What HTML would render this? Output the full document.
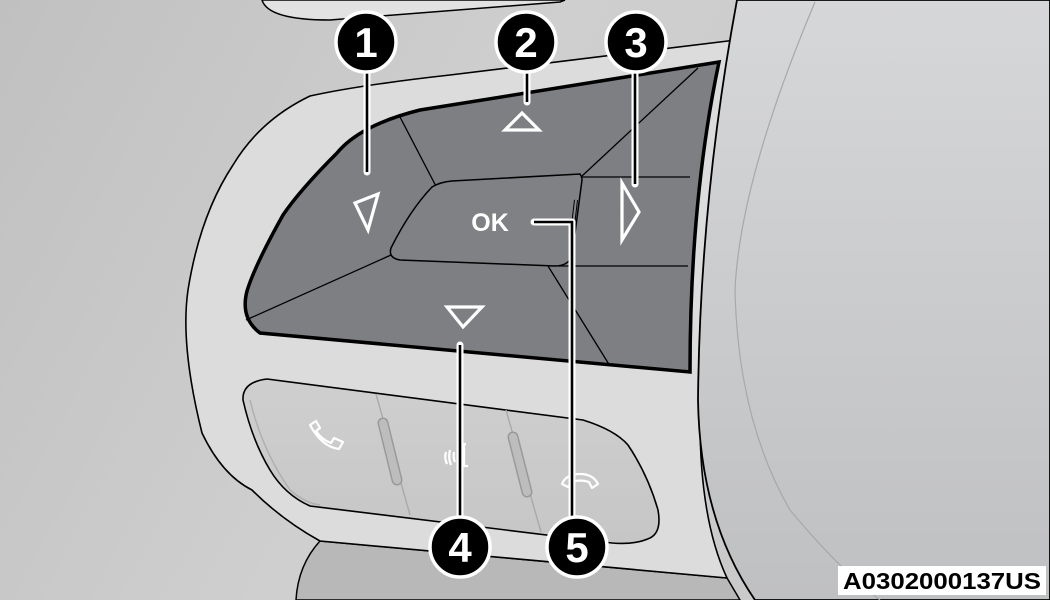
<!DOCTYPE html>
<html><head><meta charset="utf-8"><style>
html,body{margin:0;padding:0;background:#c6c6c6;}
svg{display:block;}
</style></head><body>
<svg width="1050" height="600" viewBox="0 0 1050 600" xmlns="http://www.w3.org/2000/svg" font-family="Liberation Sans, Arial, sans-serif">
<defs>
<linearGradient id="bg" x1="0" y1="0" x2="1" y2="0.3"><stop offset="0" stop-color="#c0c0c0"/><stop offset="0.5" stop-color="#cfcfcf"/><stop offset="1" stop-color="#c9c9c9"/></linearGradient>
<linearGradient id="rim" x1="0" y1="0" x2="0" y2="1"><stop offset="0" stop-color="#d6d7d9"/><stop offset="1" stop-color="#bfc0c2"/></linearGradient>
<linearGradient id="bar" x1="0" y1="0" x2="0" y2="1"><stop offset="0" stop-color="#cfcfcf"/><stop offset="1" stop-color="#c6c6c6"/></linearGradient>
</defs>
<rect width="1050" height="600" fill="url(#bg)"/>
<path d="M262,0 Q268,20 330,20 L560,2 L565,0 Z" fill="#e2e2e2" stroke="#000" stroke-width="1.5"/>
<path d="M320,541 Q298,565 296,600 L740,600 L727,578 Z" fill="#b8b8b8" stroke="#000" stroke-width="1.5"/>
<path d="M736,40 L450,75 Q360,85 310,96 Q260,120 233,165 Q200,215 188,290 Q180,345 202,433 Q222,475 252,490 Q282,520 320,541 L727,578 Q700,520 700,420 Q705,200 736,40 Z" fill="#dcdcdc" stroke="#000" stroke-width="1.6"/>
<path d="M737,0 Q700,200 698,400 Q700,520 755,600 L1050,600 L1050,0 Z" fill="url(#rim)" stroke="#000" stroke-width="1.8"/>
<path d="M815,2 Q740,180 735,290 Q738,420 790,510 Q840,570 880,600" fill="none" stroke="#a8a8a8" stroke-width="1.2"/>
<path d="M719,62 L420,110 Q360,125 337,153 Q300,190 283,215 Q255,265 247,291 Q240,318 260,333 L690,372 Q690,200 719,62 Z" fill="#7e7f83" stroke="#000" stroke-width="3.5"/>
<g stroke="#000" stroke-width="1.3" fill="none">
<path d="M400,117 L439,192"/>
<path d="M582,176 L698,68"/>
<path d="M582,177 L690,177"/>
<path d="M558,266 L688,266"/>
<path d="M391,255 L246,320"/>
<path d="M548,266 L610,366"/>
</g>
<path d="M452,181 L580,174 Q582,177 582,180 L572,256 Q568,266 555,266 L400,260 Q388,258 391,248 Q410,210 432,187 Q440,182 452,181 Z" fill="#808185" stroke="#000" stroke-width="1.5"/>
<path d="M576,200 L572,234" stroke="#000" stroke-width="4"/>
<path d="M576,200 L572,234" stroke="#86878b" stroke-width="2"/>
<text x="490" y="231" text-anchor="middle" font-size="25" font-weight="bold" fill="#fff">OK</text>
<g fill="none" stroke="#fff" stroke-width="3.2" stroke-linejoin="miter">
<path d="M355,203 L378,194 L368,230 Z"/>
<path d="M505,130 L539,130 L522,113 Z"/>
<path d="M622,183 L639,212 L622,240 Z"/>
<path d="M447,307 L482,307 L463,327 Z"/>
</g>
<path d="M267,379 L583,420 Q615,430 628,445 Q648,475 658,510 Q662,532 650,538 Q635,545 612,543 L310,506 Q285,495 270,470 Q252,440 243,400 Q242,382 267,379 Z" fill="url(#bar)" stroke="#000" stroke-width="1.6"/>
<path d="M250,400 Q262,450 290,490 Q305,503 320,505" fill="none" stroke="#b0b0b0" stroke-width="1.5"/>
<g stroke="#a9a9a9" stroke-width="1.4" fill="none">
<path d="M376,394 L410,515"/>
<path d="M506,410 L541,532"/>
</g>
<g stroke="#999" stroke-width="11" stroke-linecap="round"><path d="M383,423 L397,480"/><path d="M513,437 L527,492"/></g>
<g stroke="#bdbdbd" stroke-width="8" stroke-linecap="round"><path d="M383,423 L397,480"/><path d="M513,437 L527,492"/></g>
<g fill="none" stroke="#fff" stroke-width="2.2" stroke-linejoin="round">
<path d="M310,425 L316,421 L320,428 L316,431 Q322,440 331,443 L334,438 L343,442 L339,449 Q322,447 310,425 Z"/>
<path d="M562,484 Q566,474 580,474 Q593,474 598,484 L592,488 L589,482 Q580,479 572,482 L568,487 Z"/>
<path d="M446,452 Q444,458 447,464 M450,450 Q448,458 451,465 M454,452 Q453,458 455,462"/>
<path d="M462,444 L466,444 M464,444 L464,466 L468,466"/>
</g>
<g stroke="#fff" stroke-width="7" fill="none" stroke-linecap="round" stroke-linejoin="round">
<path d="M367,60 L367,172"/><path d="M527,60 L527,102"/><path d="M635,60 L635,184"/>
<path d="M460,345 L460,530"/><path d="M534,222 L572,222 L572,530"/>
</g>
<g stroke="#000" stroke-width="2.6" fill="none" stroke-linejoin="miter">
<path d="M367,60 L367,172"/><path d="M527,60 L527,102"/><path d="M635,60 L635,184"/>
<path d="M460,345 L460,530"/><path d="M534,222 L572,222 L572,530"/>
</g>
<g stroke="#fff" stroke-width="3.5" fill="#000">
<circle cx="366" cy="42" r="30"/><circle cx="526" cy="42" r="30"/><circle cx="636" cy="42" r="30"/>
<circle cx="460" cy="547" r="30"/><circle cx="577" cy="547" r="30"/>
</g>
<g fill="#fff" font-size="42" font-weight="bold" text-anchor="middle">
<text x="366" y="57">1</text><text x="526" y="57">2</text><text x="636" y="57">3</text>
<text x="460" y="562">4</text><text x="577" y="562">5</text>
</g>
<rect x="838" y="566" width="208" height="29" fill="#fff"/>
<text x="942" y="589" text-anchor="middle" font-size="23" font-weight="bold" fill="#000" textLength="198" lengthAdjust="spacingAndGlyphs">A0302000137US</text>
</svg>
</body></html>
